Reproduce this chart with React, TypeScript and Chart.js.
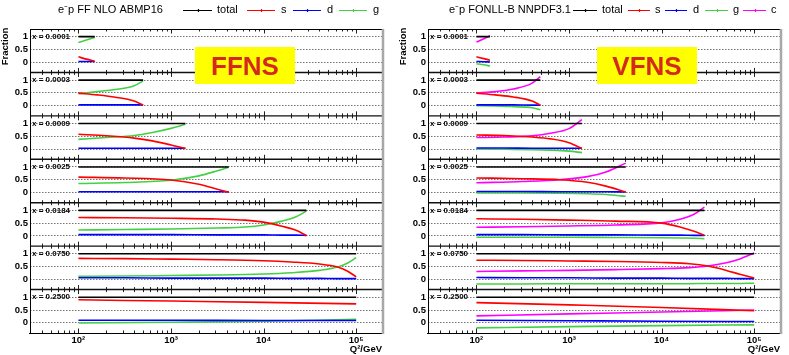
import React, { useEffect, useRef } from 'react';
import { Chart, registerables } from 'chart.js';

Chart.register(...registerables);

const FONT = '"Liberation Sans", Arial, Helvetica, sans-serif';

// ---------- data ----------
const panelLabels = ['x = 0.0001', 'x = 0.0003', 'x = 0.0009', 'x = 0.0025', 'x = 0.0184', 'x = 0.0750', 'x = 0.2500'];
const xTickValues = [100, 1000, 10000, 100000];
const xTickLabels = ['10²', '10³', '10⁴', '10⁵'];
const yTickValues = [0, 0.5, 1];
const yTickLabels = ['0', '0.5', '1'];

// FFNS (e-p FF NLO ABMP16)
const ffnsQ2 = [
  [100, 122, 150],
  [100, 160, 250, 400, 500],
  [100, 200, 400, 630, 1000, 1430],
  [100, 316, 1000, 2000, 3160, 4200],
  [100, 316, 1000, 3160, 6300, 10000, 15800, 22400, 29000],
  [100, 316, 1000, 3160, 10000, 20000, 40000, 63000, 80000, 100000],
  [100, 1000, 10000, 100000],
];
const ffnsTotal = [
  [1, 1, 1],
  [1, 1, 1, 1, 1],
  [1, 1, 1, 1, 1, 1],
  [1, 1, 1, 1, 1, 1],
  [1, 1, 1, 1, 1, 1, 1, 1, 1],
  [1, 1, 1, 1, 1, 1, 1, 1, 1, 1],
  [1, 1, 1, 1],
];
const ffnsS = [
  [0.21, 0.12, 0.04],
  [0.49, 0.42, 0.33, 0.18, 0.02],
  [0.58, 0.52, 0.43, 0.32, 0.16, 0.02],
  [0.6, 0.57, 0.49, 0.32, 0.13, 0.01],
  [0.72, 0.71, 0.69, 0.66, 0.62, 0.54, 0.38, 0.22, 0.01],
  [0.82, 0.81, 0.79, 0.77, 0.73, 0.68, 0.6, 0.48, 0.33, 0.1],
  [0.9, 0.85, 0.8, 0.74],
];
const ffnsD = [
  [0.03, 0.03, 0.03],
  [0.03, 0.03, 0.03, 0.03, 0.03],
  [0.03, 0.03, 0.03, 0.03, 0.03, 0.03],
  [0.03, 0.03, 0.03, 0.03, 0.03, 0.03],
  [0.05, 0.05, 0.05, 0.04, 0.04, 0.04, 0.03, 0.03, 0.02],
  [0.06, 0.06, 0.05, 0.05, 0.05, 0.04, 0.04, 0.03, 0.03, 0.03],
  [0.1, 0.1, 0.09, 0.09],
];
const ffnsG = [
  [0.77, 0.87, 0.97],
  [0.47, 0.55, 0.63, 0.78, 0.97],
  [0.38, 0.45, 0.53, 0.65, 0.81, 0.97],
  [0.35, 0.39, 0.48, 0.65, 0.85, 0.99],
  [0.23, 0.25, 0.27, 0.31, 0.35, 0.43, 0.58, 0.75, 0.97],
  [0.12, 0.13, 0.15, 0.17, 0.21, 0.26, 0.35, 0.48, 0.63, 0.85],
  [-0.01, 0.02, 0.06, 0.14],
];

// VFNS (e-p FONLL-B NNPDF3.1)
const vfnsQ2 = [
  [100, 120, 140],
  [100, 160, 250, 400, 490],
  [100, 200, 400, 630, 1000, 1380],
  [100, 316, 800, 1580, 2500, 4100],
  [100, 316, 1000, 3160, 10000, 15800, 22400, 29000],
  [100, 316, 1000, 3160, 10000, 20000, 31600, 50000, 70000, 100000],
  [100, 1000, 10000, 100000],
];
const vfnsTotal = [
  [1, 1, 1],
  [1, 1, 1, 1, 1],
  [1, 1, 1, 1, 1, 1],
  [1, 1, 1, 1, 1, 1],
  [1, 1, 1, 1, 1, 1, 1, 1],
  [1, 1, 1, 1, 1, 1, 1, 1, 1, 1],
  [1, 1, 1, 1],
];
const vfnsS = [
  [0.21, 0.14, 0.08],
  [0.49, 0.42, 0.34, 0.18, 0.02],
  [0.55, 0.53, 0.47, 0.4, 0.25, 0.02],
  [0.57, 0.54, 0.5, 0.4, 0.25, 0.02],
  [0.67, 0.65, 0.62, 0.58, 0.5, 0.35, 0.18, 0.02],
  [0.75, 0.74, 0.72, 0.7, 0.66, 0.61, 0.52, 0.35, 0.2, 0.05],
  [0.79, 0.7, 0.6, 0.47],
];
const vfnsD = [
  [0.03, 0.02, 0.01],
  [0.03, 0.03, 0.03, 0.02, 0.02],
  [0.04, 0.04, 0.03, 0.03, 0.03, 0.03],
  [0.04, 0.04, 0.03, 0.03, 0.03, 0.02],
  [0.05, 0.05, 0.04, 0.04, 0.03, 0.03, 0.02, 0.02],
  [0.07, 0.06, 0.06, 0.05, 0.05, 0.04, 0.04, 0.04, 0.03, 0.03],
  [0.1, 0.08, 0.06, 0.05],
];
const vfnsG = [
  [-0.06, -0.1, -0.15],
  [0.0, -0.01, -0.04, -0.08, -0.16],
  [0.0, -0.01, -0.02, -0.04, -0.08, -0.14],
  [-0.02, -0.02, -0.03, -0.05, -0.08, -0.15],
  [-0.05, -0.05, -0.05, -0.06, -0.07, -0.08, -0.09, -0.11],
  [-0.18, -0.18, -0.17, -0.17, -0.17, -0.17, -0.16, -0.16, -0.16, -0.15],
  [-0.2, -0.15, -0.11, -0.08],
];
const vfnsC = [
  [0.79, 0.92, 1.04],
  [0.49, 0.55, 0.65, 0.88, 1.14],
  [0.45, 0.47, 0.52, 0.62, 0.8, 1.15],
  [0.38, 0.43, 0.5, 0.62, 0.8, 1.15],
  [0.34, 0.36, 0.39, 0.43, 0.51, 0.65, 0.85, 1.13],
  [0.31, 0.33, 0.35, 0.38, 0.42, 0.46, 0.52, 0.65, 0.8, 1.03],
  [0.27, 0.35, 0.42, 0.5],
];

const COLORS: Record<string, string> = {
  total: '#000000',
  s: '#ff0000',
  d: '#0000ff',
  g: '#44d044',
  c: '#ff00ff',
};

type SeriesDef = { name: string; values: number[][] };
type LegendItem = { name: string; x1: number; x2: number; tx: number };
type SideCfg = {
  q2: number[][];
  series: SeriesDef[];
  title: string;
  titleX: number;
  legend: LegendItem[];
  box: { x: number; y: number; w: number; h: number; text: string };
};

const ffnsCfg: SideCfg = {
  q2: ffnsQ2,
  series: [
    { name: 'total', values: ffnsTotal },
    { name: 's', values: ffnsS },
    { name: 'd', values: ffnsD },
    { name: 'g', values: ffnsG },
  ],
  title: 'e⁻p FF NLO ABMP16',
  titleX: 58,
  legend: [
    { name: 'total', x1: 183, x2: 212, tx: 217 },
    { name: 's', x1: 247, x2: 275, tx: 281 },
    { name: 'd', x1: 293, x2: 321, tx: 327 },
    { name: 'g', x1: 339, x2: 367, tx: 373 },
  ],
  box: { x: 195, y: 47, w: 100, h: 37, text: 'FFNS' },
};

const vfnsCfg: SideCfg = {
  q2: vfnsQ2,
  series: [
    { name: 'total', values: vfnsTotal },
    { name: 's', values: vfnsS },
    { name: 'd', values: vfnsD },
    { name: 'g', values: vfnsG },
    { name: 'c', values: vfnsC },
  ],
  title: 'e⁻p FONLL-B NNPDF3.1',
  titleX: 51,
  legend: [
    { name: 'total', x1: 175, x2: 199, tx: 204 },
    { name: 's', x1: 230, x2: 252, tx: 257 },
    { name: 'd', x1: 267, x2: 289, tx: 295 },
    { name: 'g', x1: 307, x2: 330, tx: 335 },
    { name: 'c', x1: 345, x2: 368, tx: 373 },
  ],
  box: { x: 199, y: 47, w: 100, h: 37, text: 'VFNS' },
};

const NP = panelLabels.length;

function decorPlugin(cfg: SideCfg) {
  return {
    id: 'decor',
    afterDraw(chart: any) {
      const ctx: CanvasRenderingContext2D = chart.ctx;
      const { left, right, top, bottom } = chart.chartArea;
      const xs = chart.scales.x;
      ctx.save();

      // inward tick marks along each panel boundary
      const bounds: number[] = [];
      for (let i = 0; i < NP; i++) bounds.push(chart.scales['y' + i].top);
      bounds.push(bottom);
      ctx.strokeStyle = '#222';
      ctx.lineWidth = 1;
      for (const by of bounds) {
        for (let e = 1; e <= 5; e++) {
          for (let k = 1; k <= 9; k++) {
            const v = k * Math.pow(10, e);
            if (v < xs.min || v > xs.max) continue;
            const px = Math.round(xs.getPixelForValue(v)) + 0.5;
            const len = k === 1 ? 4.5 : 2.5;
            ctx.beginPath();
            if (by > top + 1) {
              ctx.moveTo(px, by - len);
              ctx.lineTo(px, by);
            }
            if (by < bottom - 1) {
              ctx.moveTo(px, by);
              ctx.lineTo(px, by + len);
            }
            ctx.stroke();
          }
        }
      }

      // panel separators
      ctx.strokeStyle = '#111';
      ctx.lineWidth = 1.4;
      for (let i = 1; i < NP; i++) {
        const y = chart.scales['y' + i].top;
        ctx.beginPath();
        ctx.moveTo(left, y);
        ctx.lineTo(right, y);
        ctx.stroke();
      }
      // frame
      ctx.strokeStyle = '#000';
      ctx.lineWidth = 1;
      ctx.beginPath();
      ctx.moveTo(left, top + 0.5);
      ctx.lineTo(right, top + 0.5);
      ctx.moveTo(left + 0.5, top);
      ctx.lineTo(left + 0.5, bottom);
      ctx.moveTo(left, bottom + 0.5);
      ctx.lineTo(right, bottom + 0.5);
      ctx.stroke();
      ctx.strokeStyle = '#a8a8a8';
      ctx.lineWidth = 2.5;
      ctx.beginPath();
      ctx.moveTo(right + 1, top);
      ctx.lineTo(right + 1, bottom + 1);
      ctx.stroke();

      // panel labels
      ctx.fillStyle = '#000';
      ctx.font = `bold 8px ${FONT}`;
      ctx.textAlign = 'left';
      ctx.textBaseline = 'middle';
      for (let i = 0; i < NP; i++) {
        const ys = chart.scales['y' + i];
        ctx.fillText(panelLabels[i], left + 2, ys.getPixelForValue(1));
      }

      // Fraction label
      ctx.save();
      ctx.translate(5.5, 46.5);
      ctx.rotate(-Math.PI / 2);
      ctx.font = `bold 9.5px ${FONT}`;
      ctx.textAlign = 'center';
      ctx.textBaseline = 'middle';
      ctx.fillText('Fraction', 0, 0);
      ctx.restore();

      // header: title + legend
      ctx.font = `11px ${FONT}`;
      ctx.textAlign = 'left';
      ctx.textBaseline = 'middle';
      ctx.fillStyle = '#000';
      ctx.fillText(cfg.title, cfg.titleX, 10);
      for (const it of cfg.legend) {
        const col = COLORS[it.name];
        ctx.strokeStyle = col;
        ctx.lineWidth = 1.2;
        ctx.beginPath();
        ctx.moveTo(it.x1, 10.5);
        ctx.lineTo(it.x2, 10.5);
        const mid = Math.round((it.x1 + it.x2) / 2) + 0.5;
        ctx.moveTo(mid, 9);
        ctx.lineTo(mid, 12);
        ctx.stroke();
        ctx.fillStyle = '#000';
        ctx.fillText(it.name, it.tx, 10);
      }

      // scheme box
      const b = cfg.box;
      ctx.fillStyle = '#ffff00';
      ctx.fillRect(b.x, b.y, b.w, b.h);
      ctx.fillStyle = '#d42a1e';
      ctx.font = `bold 26px ${FONT}`;
      ctx.textAlign = 'center';
      ctx.textBaseline = 'alphabetic';
      ctx.fillText(b.text, b.x + b.w / 2, b.y + 28);

      ctx.restore();
    },
  };
}

function buildConfig(cfg: SideCfg): any {
  const scales: any = {
    x: {
      type: 'logarithmic',
      position: 'bottom',
      min: 30,
      max: 190000,
      afterBuildTicks: (s: any) => {
        s.ticks = xTickValues.map((v) => ({ value: v, major: true }));
      },
      afterFit: (s: any) => {
        s.height = 22;
      },
      ticks: {
        autoSkip: false,
        maxRotation: 0,
        padding: 2,
        color: '#000',
        font: { family: FONT, size: 9.5, weight: 'bold' },
        callback: (v: any) => {
          const i = xTickValues.indexOf(Number(v));
          return i >= 0 ? xTickLabels[i] : '';
        },
      },
      grid: { display: false, drawOnChartArea: false, drawTicks: false },
      border: { display: true, color: '#000', width: 1 },
      title: {
        display: true,
        text: 'Q²/GeV',
        align: 'end',
        color: '#000',
        padding: 0,
        font: { family: FONT, size: 9.5, weight: 'bold' },
      },
    },
  };
  for (let i = 0; i < NP; i++) {
    scales['y' + i] = {
      type: 'linear',
      position: 'left',
      stack: 'panels',
      stackWeight: 1,
      weight: NP - i,
      min: -0.4,
      max: 1.3,
      afterBuildTicks: (s: any) => {
        s.ticks = yTickValues.map((v) => ({ value: v }));
      },
      afterFit: (s: any) => {
        s.width = 30;
      },
      ticks: {
        autoSkip: false,
        padding: 2,
        color: '#000',
        font: { family: FONT, size: 9.5, weight: 'bold' },
        callback: (v: any) => {
          const k = yTickValues.indexOf(Number(v));
          return k >= 0 ? yTickLabels[k] : '';
        },
      },
      grid: { color: 'rgba(0,0,0,0.55)', lineWidth: 1, drawTicks: false },
      border: { display: true, color: '#000', width: 1, dash: [1.5, 1.5] },
    };
  }

  const datasets: any[] = [];
  for (let i = 0; i < NP; i++) {
    for (const s of cfg.series) {
      datasets.push({
        label: s.name,
        data: cfg.q2[i].map((q, j) => ({ x: q, y: s.values[i][j] })),
        xAxisID: 'x',
        yAxisID: 'y' + i,
        borderColor: COLORS[s.name],
        backgroundColor: COLORS[s.name],
        borderWidth: 1.6,
        pointRadius: 0,
        fill: false,
        cubicInterpolationMode: 'monotone',
      });
    }
  }

  return {
    type: 'line',
    data: { datasets },
    options: {
      responsive: false,
      maintainAspectRatio: false,
      devicePixelRatio: 1,
      animation: false,
      layout: { padding: { top: 29, right: 9, left: 0, bottom: 0 } },
      plugins: { legend: { display: false }, tooltip: { enabled: false }, title: { display: false } },
      scales,
    },
    plugins: [decorPlugin(cfg)],
  };
}

function SidePanel({ cfg, left }: { cfg: SideCfg; left: number }) {
  const ref = useRef<HTMLCanvasElement>(null);
  useEffect(() => {
    if (!ref.current) return;
    const chart = new Chart(ref.current, buildConfig(cfg));
    return () => chart.destroy();
  }, [cfg]);
  return (
    <canvas
      ref={ref}
      width={391}
      height={355}
      style={{ position: 'absolute', left, top: 0, width: 391, height: 355 }}
    />
  );
}

export default function App() {
  return (
    <div
      style={{
        position: 'absolute',
        left: 0,
        top: 0,
        width: 789,
        height: 355,
        background: '#ffffff',
        overflow: 'hidden',
      }}
    >
      <SidePanel cfg={ffnsCfg} left={0} />
      <SidePanel cfg={vfnsCfg} left={398} />
    </div>
  );
}
